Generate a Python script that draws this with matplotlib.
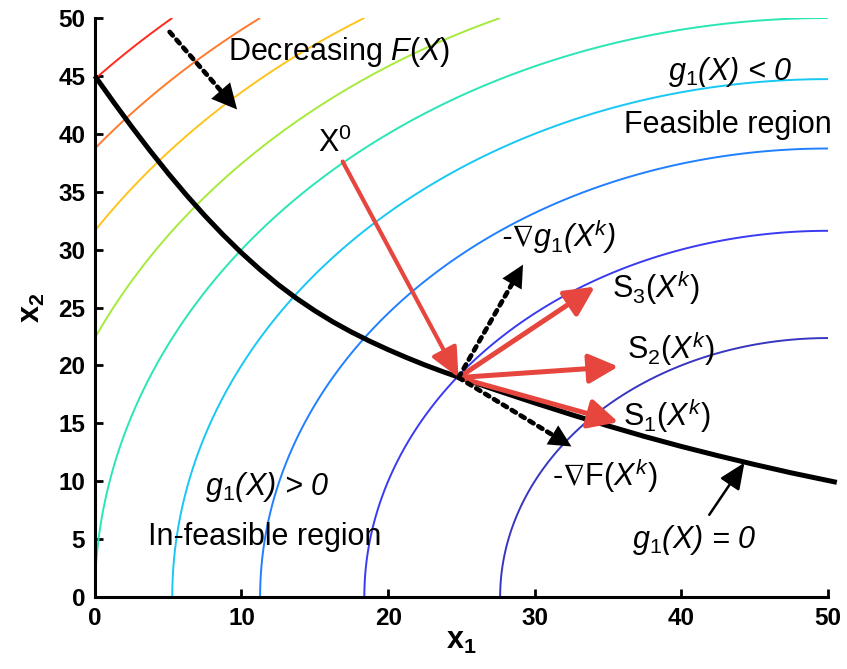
import numpy as np
import matplotlib
matplotlib.use("Agg")
import matplotlib.pyplot as plt

plt.rcParams['font.family'] = ['Liberation Sans', 'DejaVu Sans']
plt.rcParams['mathtext.fontset'] = 'custom'
plt.rcParams['mathtext.rm'] = 'Liberation Sans'
plt.rcParams['mathtext.it'] = 'Liberation Sans:italic'
plt.rcParams['mathtext.bf'] = 'Liberation Sans:bold'
plt.rcParams['mathtext.fallback'] = 'stixsans'

# Objective contours: F(X) = (x1 - 50)^2 + x2^2
f_levels = [500, 1000, 1500, 2000, 2500, 3000, 3500, 4000, 4500]
f_colors = ['#3636c0', '#3a3af2', '#2080ff', '#18c8f4', '#2ae6b4',
            '#a6ea3c', '#ffc41c', '#ff7a2c', '#ff2a1c']

# Constraint boundary g1(X) = 0
g_x1 = [0, 1.25, 2.5, 3.75, 5, 6.25, 7.5, 8.75, 10, 11.25, 12.5, 13.75,
        15, 16.25, 17.5, 18.75, 20, 21.25, 22.5, 23.75, 25, 27.5, 30,
        32.5, 35, 37.5, 40, 42.5, 45, 47.5, 50.6]
g_x2 = [45, 42.78, 40.63, 38.56, 36.58, 34.70, 32.93, 31.27, 29.72, 28.29,
        26.98, 25.79, 24.72, 23.75, 22.88, 22.09, 21.36, 20.68, 20.04, 19.45,
        18.9, 17.81, 16.76, 15.75, 14.78, 13.86, 13.0, 12.2, 11.44, 10.72, 9.9]

# Points and search directions
x0 = (16.9, 37.6)
xk = (24.8, 18.95)
s_tips = {'S1': (35.7, 15.1), 'S2': (35.7, 19.9), 'S3': (34.1, 26.8)}
neg_grad_g = (29.2, 28.7)
neg_grad_f = (32.5, 13.0)
decr_tail, decr_tip = (5.1, 48.8), (9.7, 42.1)
g0_tail, g0_tip = (41.9, 7.1), (44.3, 11.6)

fig = plt.figure(figsize=(8.47, 6.69), dpi=100)
ax = fig.add_axes([0.112, 0.1076, 0.8656, 0.8655])

g1 = np.linspace(0, 50, 600)
G1, G2 = np.meshgrid(g1, g1)
F = (G1 - 50) ** 2 + G2 ** 2
ax.contour(G1, G2, F, levels=f_levels, colors=f_colors, linewidths=1.4)

ax.plot(g_x1, g_x2, color='black', lw=3.6, clip_on=False, zorder=3,
        solid_capstyle='butt', solid_joinstyle='round')

red = '#e6463e'


def arrow(tail, tip, color, lw, hl, hw, ms=20, dotted=False, z=5):
    if dotted:
        ax.annotate('', xy=tip, xytext=tail,
                    arrowprops=dict(arrowstyle='-', color=color, lw=lw,
                                    linestyle=(0, (1, 1.2)),
                                    shrinkA=0, shrinkB=hl * ms * 0.8),
                    zorder=z)
        ax.annotate('', xy=tip, xytext=tail,
                    arrowprops=dict(arrowstyle=f'-|>,head_length={hl},head_width={hw}',
                                    color=color, lw=0.01, mutation_scale=ms,
                                    shrinkA=0, shrinkB=0),
                    zorder=z)
    else:
        ax.annotate('', xy=tip, xytext=tail,
                    arrowprops=dict(arrowstyle=f'-|>,head_length={hl},head_width={hw}',
                                    color=color, lw=lw, mutation_scale=ms,
                                    shrinkA=0, shrinkB=0),
                    zorder=z)


arrow(x0, xk, red, 3.0, 0.9, 0.42)
for key in ['S1', 'S2', 'S3']:
    arrow(xk, s_tips[key], red, 3.6, 0.9, 0.45)
arrow(xk, neg_grad_g, 'black', 3.4, 0.8, 0.4, dotted=True)
arrow(xk, neg_grad_f, 'black', 3.4, 0.8, 0.4, dotted=True)
arrow(decr_tail, decr_tip, 'black', 3.4, 0.9, 0.45, dotted=True)
arrow(g0_tail, g0_tip, 'black', 1.8, 0.8, 0.35)

fs = 22
ax.text(9.1, 47.1, r'Decreasing $\mathit{F(X)}$', fontsize=fs, va='center')
ax.text(39.1, 45.3, r'g$_\mathit{1}$(X) < 0', fontsize=fs, va='center',
        style='italic')
ax.text(36.1, 40.8, 'Feasible region', fontsize=fs, va='center')
ax.text(15.2, 39.2, r'X$^\mathrm{0}$', fontsize=fs, va='center')
ax.text(27.7, 31.1, r'-$\nabla$g$_\mathit{1}$(X$^\mathit{k}$)', fontsize=fs,
        va='center', style='italic')
ax.text(35.3, 26.7, r'S$_\mathrm{3}\mathit{(X^k)}$', fontsize=fs, va='center')
ax.text(36.3, 21.5, r'S$_\mathrm{2}\mathit{(X^k)}$', fontsize=fs, va='center')
ax.text(36.0, 15.7, r'S$_\mathrm{1}\mathit{(X^k)}$', fontsize=fs, va='center')
ax.text(31.2, 10.5, r'-$\nabla$F$\mathit{(X^k)}$', fontsize=fs, va='center')
ax.text(36.6, 4.9, r'g$_\mathit{1}$(X) = 0', fontsize=fs, va='center',
        style='italic')
ax.text(7.5, 9.5, r'g$_\mathit{1}$(X) > 0', fontsize=fs, va='center',
        style='italic')
ax.text(3.6, 5.2, 'In-feasible region', fontsize=fs, va='center')

ax.set_xlim(0, 50)
ax.set_ylim(0, 50)
ax.set_xticks(range(0, 51, 10))
ax.set_yticks(range(0, 51, 5))
for side in ['top', 'right']:
    ax.spines[side].set_visible(False)
for side in ['left', 'bottom']:
    ax.spines[side].set_linewidth(2.2)
ax.tick_params(direction='in', length=6, width=2, labelsize=17.5, pad=7)
for lab in ax.get_xticklabels() + ax.get_yticklabels():
    lab.set_fontweight('bold')

ax.set_xlabel(r'$\mathbf{x_1}$', fontsize=22, labelpad=-3)
ax.set_ylabel(r'$\mathbf{x_2}$', fontsize=22, labelpad=8)

fig.savefig('out.png', dpi=100)
